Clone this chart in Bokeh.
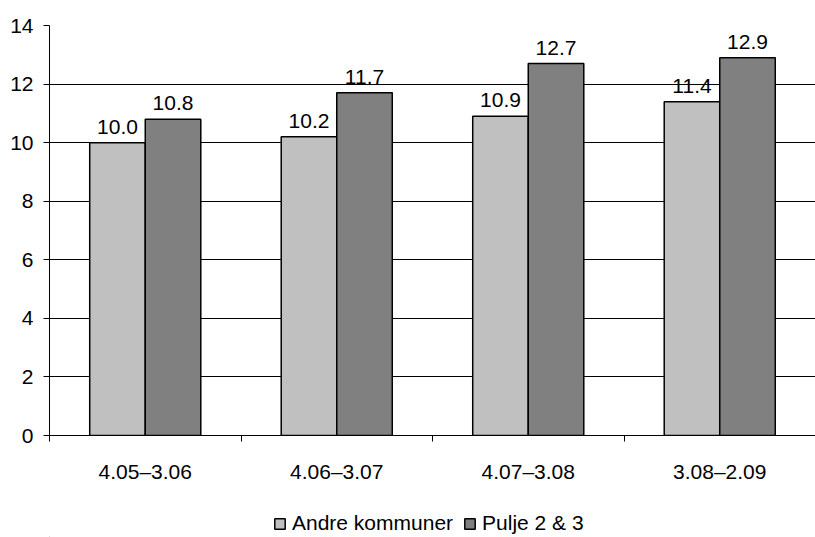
from bokeh.plotting import figure
from bokeh.layouts import column
from bokeh.models import ColumnDataSource, FixedTicker, Range1d, Legend, LegendItem
from bokeh.core.properties import value
from bokeh.embed import file_html
from bokeh.resources import INLINE

categories = ["4.05–3.06", "4.06–3.07", "4.07–3.08", "3.08–2.09"]
andre = [10.0, 10.2, 10.9, 11.4]
pulje = [10.8, 11.7, 12.7, 12.9]
series_names = ["Andre kommuner", "Pulje 2 & 3"]
series_colors = ["#C0C0C0", "#808080"]
y_ticks = [0, 2, 4, 6, 8, 10, 12, 14]

FONT = "Liberation Sans"
BW = 0.29
idx = list(range(len(categories)))

src_a = ColumnDataSource(dict(x=[i + 0.5 - BW / 2 for i in idx], top=andre,
                              lab=[f"{v:.1f}" for v in andre]))
src_p = ColumnDataSource(dict(x=[i + 0.5 + BW / 2 for i in idx], top=pulje,
                              lab=[f"{v:.1f}" for v in pulje]))

p = figure(width=815, height=490, output_backend="svg", toolbar_location=None,
           x_range=Range1d(0, len(categories)), y_range=Range1d(0, 14),
           min_border_left=49, min_border_right=0, min_border_top=25,
           min_border_bottom=55)
p.outline_line_color = None
p.background_fill_color = "white"
p.border_fill_color = "white"

p.ygrid.ticker = FixedTicker(ticks=y_ticks)
p.ygrid.grid_line_color = "black"
p.ygrid.grid_line_width = 1
p.xgrid.grid_line_color = None

p.vbar(x="x", top="top", width=BW, source=src_a, fill_color=series_colors[0],
       line_color="black", line_width=1.5)
p.vbar(x="x", top="top", width=BW, source=src_p, fill_color=series_colors[1],
       line_color="black", line_width=1.5)

for s in (src_a, src_p):
    p.text(x="x", y="top", text="lab", source=s, text_align="center",
           text_baseline="alphabetic", y_offset=-16, text_font=value(FONT),
           text_font_size="21px", text_color="black")

# y axis
p.yaxis.ticker = FixedTicker(ticks=y_ticks)
p.yaxis.major_tick_out = 6
p.yaxis.major_tick_in = 0
p.yaxis.minor_tick_out = 0
p.yaxis.minor_tick_in = 0
p.yaxis.axis_line_color = "black"
p.yaxis.major_tick_line_color = "black"
p.yaxis.major_label_text_font = FONT
p.yaxis.major_label_text_font_size = "21px"
p.yaxis.major_label_text_color = "black"
p.yaxis.major_label_standoff = 10

# x axis: labels at centers, ticks at boundaries (minor ticks)
p.xaxis.ticker = FixedTicker(ticks=[i + 0.5 for i in idx],
                             minor_ticks=list(range(len(categories) + 1)))
p.xaxis.major_label_overrides = {i + 0.5: c for i, c in zip(idx, categories)}
p.xaxis.major_tick_out = 0
p.xaxis.major_tick_in = 0
p.xaxis.minor_tick_out = 6
p.xaxis.minor_tick_in = 0
p.xaxis.minor_tick_line_color = "black"
p.xaxis.axis_line_color = "black"
p.xaxis.major_label_text_font = FONT
p.xaxis.major_label_text_font_size = "21px"
p.xaxis.major_label_text_color = "black"
p.xaxis.major_label_standoff = 18

# legend figure
lf = figure(width=815, height=47, output_backend="svg", toolbar_location=None,
            x_range=Range1d(0, 1), y_range=Range1d(0, 1),
            min_border_left=0, min_border_right=0, min_border_top=0,
            min_border_bottom=0)
lf.axis.visible = False
lf.grid.visible = False
lf.outline_line_color = None
items = []
for name, col in zip(series_names, series_colors):
    r = lf.vbar(x=[-5], top=[-5], bottom=[-6], width=0.1, fill_color=col,
                line_color="black", line_width=1.5)
    items.append(LegendItem(label=name, renderers=[r]))
legend = Legend(items=items, orientation="horizontal", location=(224, 2),
                border_line_color=None, background_fill_alpha=0,
                label_text_font=FONT, label_text_font_size="21px",
                label_text_color="black", glyph_width=13, glyph_height=13,
                label_standoff=6, spacing=10, padding=0, margin=0)
lf.add_layout(legend, "center")

open("out.html", "w").write(file_html(column(p, lf, spacing=0), INLINE))
